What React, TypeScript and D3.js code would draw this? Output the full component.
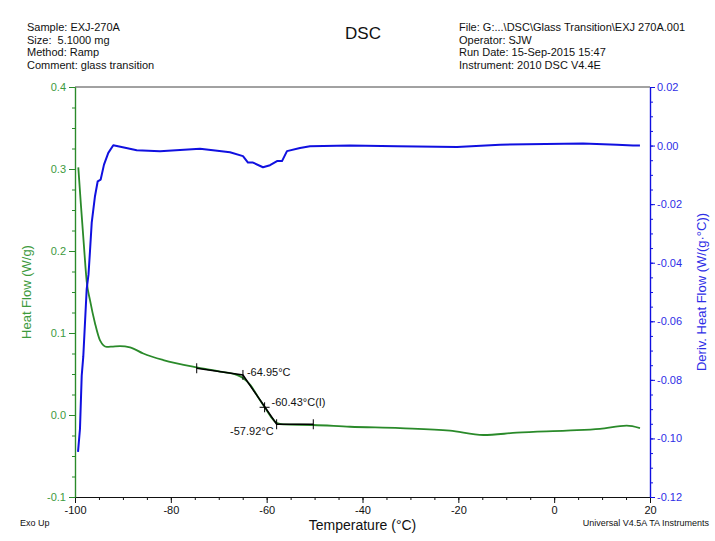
import React, { useEffect, useRef } from "react";
import * as d3 from "d3";

// Heat flow curve (green), temperature in °C / heat flow in W/g
const heatFlowTemps = [
  -99.31, -98.75, -98.12, -97.56, -96.87, -95.83, -94.78, -93.38, -92.07, -90.61,
  -88.52, -85.75, -81.57, -74.6, -69.74, -66.25, -64.94, -63.48, -61.81, -60.35,
  -58.89, -57.84, -56.59, -50.27, -42.61, -32.17, -21.74, -14.79, -7.82, 2.61,
  9.56, 15.14, 17.91,
];
const heatFlowValues = [
  0.302, 0.255, 0.205, 0.163, 0.14, 0.112, 0.091, 0.083, 0.0835, 0.084,
  0.0825, 0.075, 0.067, 0.058, 0.053, 0.049, 0.045, 0.037, 0.022, 0.009,
  -0.004, -0.01, -0.0115, -0.0122, -0.0143, -0.016, -0.019, -0.0244, -0.0216, -0.019,
  -0.017, -0.013, -0.016,
];

// Derivative curve (blue), W/(g·°C)
const derivTemps = [
  -99.37, -98.96, -98.6, -98.27, -97.56, -97.18, -96.87, -96.51, -95.83, -95.26,
  -94.64, -93.95, -93.05, -92.01, -89.3, -87.12, -82.26, -73.91, -71.2, -67.65,
  -64.94, -63.9, -62.85, -60.77, -59.3, -57.84, -56.8, -55.76, -53.04, -50.96,
  -42.61, -32.8, -20.28, -11.3, 6.02, 13.11, 16.45, 17.9,
];
const derivValues = [
  -0.1046, -0.0967, -0.0786, -0.072, -0.049, -0.044, -0.036, -0.0263, -0.0173, -0.0122,
  -0.0116, -0.0065, -0.0025, 0.0001, -0.0008, -0.0016, -0.0019, -0.0011, -0.0016, -0.0023,
  -0.0036, -0.0058, -0.0058, -0.0074, -0.0067, -0.0053, -0.0053, -0.0019, -0.0008, -0.0002,
  0.0, -0.0002, -0.0005, 0.0003, 0.0007, 0.0003, 0.0, 0.0,
];

// Glass transition analysis: left limit, onset, end, right limit
const gtTemps = [-74.6, -64.95, -57.92, -50.27];
const gtValues = [0.057, 0.0488, -0.0113, -0.0113];
const gtInflection = [-60.43, 0.0094];
const gtLabels = ["-64.95°C", "-60.43°C(I)", "-57.92°C"];

const tempTicks = [-100, -80, -60, -40, -20, 0, 20];
const heatFlowTicks = [-0.1, 0.0, 0.1, 0.2, 0.3, 0.4];
const derivTicks = [-0.12, -0.1, -0.08, -0.06, -0.04, -0.02, 0.0, 0.02];

const headerLeft = [
  "Sample: EXJ-270A",
  "Size:  5.1000 mg",
  "Method: Ramp",
  "Comment: glass transition",
];
const headerRight = [
  "File: G:...\\DSC\\Glass Transition\\EXJ 270A.001",
  "Operator: SJW",
  "Run Date: 15-Sep-2015 15:47",
  "Instrument: 2010 DSC V4.4E",
];

const GREEN = "#2a8a2a";
const GREEN_TEXT = "#3d9a3d";
const BLUE = "#1010e0";
const BLUE_TEXT = "#2e2ee6";
const FONT = "'Liberation Sans', Arial, sans-serif";

// plain hyphen instead of d3's unicode minus, like the instrument printout
const fmt = (spec: string) => (d: any) => d3.format(spec)(d).replace("\u2212", "-");

const App: React.FC = () => {
  const svgRef = useRef<SVGSVGElement | null>(null);

  useEffect(() => {
    document.body.style.margin = "0";
    if (!svgRef.current) return;
    const width = 715;
    const height = 541;
    const margin = { top: 87, right: 65, bottom: 44, left: 75 };

    d3.select(svgRef.current).selectAll("*").remove();
    const svg = d3
      .select(svgRef.current)
      .attr("width", width)
      .attr("height", height)
      .style("font-family", FONT);

    svg.append("rect").attr("width", width).attr("height", height).attr("fill", "white");

    const x = d3.scaleLinear().domain([-100, 20]).range([margin.left, width - margin.right]);
    const yHF = d3.scaleLinear().domain([-0.1, 0.4]).range([height - margin.bottom, margin.top]);
    const yD = d3.scaleLinear().domain([-0.12, 0.02]).range([height - margin.bottom, margin.top]);

    // header text
    const header = svg.append("g").attr("font-size", 11).attr("fill", "#111");
    headerLeft.forEach((t, i) =>
      header
        .append("text")
        .attr("x", 27)
        .attr("y", 31 + i * 12.7)
        .style("white-space", "pre")
        .text(t)
    );
    headerRight.forEach((t, i) =>
      header
        .append("text")
        .attr("x", 459)
        .attr("y", 31 + i * 12.7)
        .text(t)
    );
    svg
      .append("text")
      .attr("x", 363)
      .attr("y", 39)
      .attr("text-anchor", "middle")
      .attr("font-size", 17)
      .attr("fill", "#111")
      .text("DSC");

    // top border
    svg
      .append("line")
      .attr("x1", x(-100))
      .attr("x2", x(20))
      .attr("y1", yHF(0.4))
      .attr("y2", yHF(0.4))
      .attr("stroke", "#444")
      .attr("stroke-width", 1);

    const styleAxis = (g: any, color: string, textColor: string) => {
      g.select(".domain").attr("stroke", color).attr("stroke-width", 1.2);
      g.selectAll(".tick line").attr("stroke", color);
      g.selectAll(".tick text")
        .attr("fill", textColor)
        .attr("font-size", 11)
        .attr("font-family", FONT);
    };

    // x axis (minor every 5°)
    const gxMinor = svg
      .append("g")
      .attr("transform", `translate(0,${yHF(-0.1)})`)
      .call(d3.axisBottom(x).tickValues(d3.range(-100, 21, 5)).tickSize(3).tickSizeOuter(0).tickFormat(() => ""));
    styleAxis(gxMinor, "#111", "#111");
    const gx = svg
      .append("g")
      .attr("transform", `translate(0,${yHF(-0.1)})`)
      .call(d3.axisBottom(x).tickValues(tempTicks).tickSize(6).tickSizeOuter(0).tickPadding(3).tickFormat(fmt("d")));
    styleAxis(gx, "#111", "#111");

    // left axis
    const gyMinor = svg
      .append("g")
      .attr("transform", `translate(${x(-100)},0)`)
      .call(d3.axisLeft(yHF).tickValues(d3.range(-0.1, 0.4001, 0.025)).tickSize(3).tickSizeOuter(0).tickFormat(() => ""));
    styleAxis(gyMinor, GREEN, GREEN_TEXT);
    const gy = svg
      .append("g")
      .attr("transform", `translate(${x(-100)},0)`)
      .call(d3.axisLeft(yHF).tickValues(heatFlowTicks).tickSize(6).tickSizeOuter(0).tickPadding(3).tickFormat(fmt(".1f")));
    styleAxis(gy, GREEN, GREEN_TEXT);

    // right axis
    const gdMinor = svg
      .append("g")
      .attr("transform", `translate(${x(20)},0)`)
      .call(d3.axisRight(yD).tickValues(d3.range(-0.12, 0.02001, 0.005)).tickSize(3).tickSizeOuter(0).tickFormat(() => ""));
    styleAxis(gdMinor, BLUE, BLUE_TEXT);
    const gd = svg
      .append("g")
      .attr("transform", `translate(${x(20)},0)`)
      .call(d3.axisRight(yD).tickValues(derivTicks).tickSize(5).tickSizeOuter(0).tickPadding(2).tickFormat(fmt(".2f")));
    styleAxis(gd, BLUE, BLUE_TEXT);

    // axis titles
    svg
      .append("text")
      .attr("transform", `translate(31,${(yHF(0.4) + yHF(-0.1)) / 2}) rotate(-90)`)
      .attr("text-anchor", "middle")
      .attr("font-size", 13)
      .attr("fill", GREEN_TEXT)
      .text("Heat Flow (W/g)");
    svg
      .append("text")
      .attr("transform", `translate(706,${(yD(0.02) + yD(-0.12)) / 2}) rotate(-90)`)
      .attr("text-anchor", "middle")
      .attr("font-size", 13)
      .attr("fill", BLUE_TEXT)
      .text("Deriv. Heat Flow (W/(g·°C))");
    svg
      .append("text")
      .attr("x", (x(-100) + x(20)) / 2)
      .attr("y", 530)
      .attr("text-anchor", "middle")
      .attr("font-size", 14)
      .attr("fill", "#111")
      .text("Temperature (°C)");
    svg
      .append("text")
      .attr("x", 20)
      .attr("y", 526)
      .attr("font-size", 9)
      .attr("fill", "#111")
      .text("Exo Up");
    svg
      .append("text")
      .attr("x", 709)
      .attr("y", 526)
      .attr("text-anchor", "end")
      .attr("font-size", 9)
      .attr("fill", "#111")
      .text("Universal V4.5A TA Instruments");

    // curves
    const hfLine = d3
      .line<number>()
      .x((_, i) => x(heatFlowTemps[i]))
      .y((d) => yHF(d))
      .curve(d3.curveMonotoneX);
    svg
      .append("path")
      .datum(heatFlowValues)
      .attr("fill", "none")
      .attr("stroke", GREEN)
      .attr("stroke-width", 1.8)
      .attr("d", hfLine);

    const dLine = d3
      .line<number>()
      .x((_, i) => x(derivTemps[i]))
      .y((d) => yD(d));
    svg
      .append("path")
      .datum(derivValues)
      .attr("fill", "none")
      .attr("stroke", BLUE)
      .attr("stroke-width", 2)
      .attr("stroke-linejoin", "round")
      .attr("d", dLine);

    // glass transition construction
    const gt = svg.append("g").attr("stroke", "#000").attr("stroke-width", 1.6);
    gt.append("path")
      .datum(gtValues)
      .attr("fill", "none")
      .attr(
        "d",
        d3
          .line<number>()
          .x((_, i) => x(gtTemps[i]))
          .y((d) => yHF(d))
      );
    gtTemps.forEach((t, i) => {
      gt.append("line")
        .attr("stroke-width", 1)
        .attr("x1", x(t))
        .attr("x2", x(t))
        .attr("y1", yHF(gtValues[i]) - 5)
        .attr("y2", yHF(gtValues[i]) + 5);
    });
    const ix = x(gtInflection[0]);
    const iy = yHF(gtInflection[1]);
    gt.append("line").attr("stroke-width", 1).attr("x1", ix - 5).attr("x2", ix + 5).attr("y1", iy).attr("y2", iy);
    gt.append("line").attr("stroke-width", 1).attr("x1", ix).attr("x2", ix).attr("y1", iy - 5).attr("y2", iy + 5);

    const labels = svg.append("g").attr("font-size", 11).attr("fill", "#111");
    labels
      .append("text")
      .attr("x", x(gtTemps[1]) + 4)
      .attr("y", yHF(gtValues[1]) + 1)
      .text(gtLabels[0]);
    labels
      .append("text")
      .attr("x", ix + 7)
      .attr("y", iy - 1.5)
      .text(gtLabels[1]);
    labels
      .append("text")
      .attr("x", x(gtTemps[2]) - 3)
      .attr("y", yHF(gtValues[2]) + 11)
      .attr("text-anchor", "end")
      .text(gtLabels[2]);
  }, []);

  return (
    <div>
      <svg ref={svgRef} />
    </div>
  );
};

export default App;
